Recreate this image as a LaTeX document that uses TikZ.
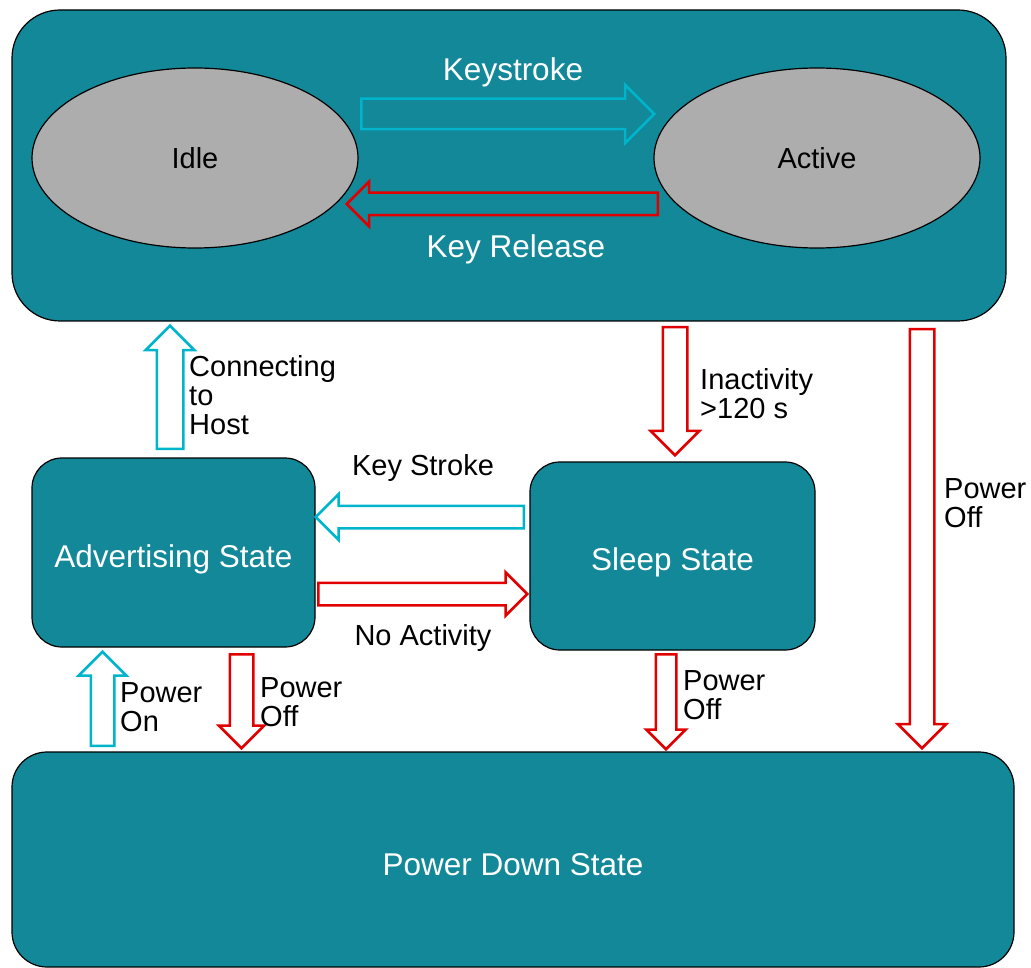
\documentclass[tikz,border=0pt]{standalone}
\usepackage{fontspec}
\setmainfont{Liberation Sans}
\usepackage{xcolor}
\usetikzlibrary{shapes.geometric, shapes.arrows, calc}

\definecolor{stateteal}{RGB}{18,136,153}
\definecolor{ovalgray}{RGB}{173,173,173}
\definecolor{goarrow}{RGB}{0,180,204}
\definecolor{offarrow}{RGB}{224,0,0}

\tikzset{
  statebox/.style={draw=black, line width=1.2pt, fill=stateteal, rounded corners=#1,
    text=white, font=\fontsize{31.5}{32}\selectfont},
  statebox/.default=30pt,
  oval/.style={ellipse, draw=black, line width=1.2pt, fill=ovalgray,
    minimum width=326pt, minimum height=180pt, font=\fontsize{29}{29}\selectfont},
  blk/.style={single arrow, draw=#1, line width=2.5pt, inner xsep=0pt,
    single arrow tip angle=90},
  shaft/.style n args={2}{inner ysep=#1/2, minimum width=#2,
    single arrow head extend={(#2-#1)/2}},
  lbl/.style={align=left, inner sep=0pt, font=\fontsize{29}{29}\selectfont},
  toplbl/.style={inner sep=0pt, text=white, font=\fontsize{31.5}{32}\selectfont},
}

% block arrow from tail to tip
\newcommand{\blockarrow}[3]{%
  \path let \p1=(#2), \p2=(#3),
    \n1={veclen(\x2-\x1,\y2-\y1)}, \n2={atan2(\y2-\y1,\x2-\x1)} in
    node[#1, minimum height=\n1, rotate=\n2, anchor=tail] at (#2) {};}

\begin{document}
\begin{tikzpicture}[x=1pt, y=-1pt]
  \useasboundingbox (0,0) rectangle (1031,968);

  % states
  \node[statebox=48pt, minimum width=994pt, minimum height=311pt] (top) at (509,165.5) {};
  \node[oval] (idle) at (195,158) {Idle};
  \node[oval] (active) at (817,158) {Active};
  \node[statebox, minimum width=283pt, minimum height=189pt, text height=36pt] (adv) at (173.5,552.5) {Advertising State};
  \node[statebox, minimum width=285pt, minimum height=188pt, text height=35pt] (sleep) at (672.5,556) {Sleep State};
  \node[statebox=35pt, minimum width=1002pt, minimum height=215pt, text height=33pt] (down) at (513,859.5) {Power Down State};

  % arrow ends
  \coordinate (ks-a) at (360,114);   \coordinate (ks-b) at (653,114);
  \coordinate (kr-a) at (659,204);   \coordinate (kr-b) at (348,204);
  \coordinate (ch-a) at (170,450);   \coordinate (ch-b) at (170,327);
  \coordinate (kst-a) at (525,517);  \coordinate (kst-b) at (317,517);
  \coordinate (na-a) at (317,594);   \coordinate (na-b) at (526,594);
  \coordinate (on-a) at (102.5,747); \coordinate (on-b) at (102.5,653);
  \coordinate (aoff-a) at (241.5,653); \coordinate (aoff-b) at (241.5,747);
  \coordinate (ina-a) at (675,326);  \coordinate (ina-b) at (675,454);
  \coordinate (toff-a) at (922,328); \coordinate (toff-b) at (922,747);
  \coordinate (soff-a) at (666,653); \coordinate (soff-b) at (666,748);

  % transitions
  \blockarrow{blk=goarrow, shaft={28pt}{56pt}}{ks-a}{ks-b}
  \blockarrow{blk=offarrow, shaft={20pt}{42pt}}{kr-a}{kr-b}
  \blockarrow{blk=goarrow, shaft={24pt}{46pt}}{ch-a}{ch-b}
  \blockarrow{blk=goarrow, shaft={20pt}{43pt}}{kst-a}{kst-b}
  \blockarrow{blk=offarrow, shaft={20pt}{41pt}}{na-a}{na-b}
  \blockarrow{blk=goarrow, shaft={21pt}{45pt}}{on-a}{on-b}
  \blockarrow{blk=offarrow, shaft={21pt}{43pt}}{aoff-a}{aoff-b}
  \blockarrow{blk=offarrow, shaft={22pt}{46pt}}{ina-a}{ina-b}
  \blockarrow{blk=offarrow, shaft={22pt}{46pt}}{toff-a}{toff-b}
  \blockarrow{blk=offarrow, shaft={18pt}{37pt}}{soff-a}{soff-b}

  % labels
  \node[toplbl] (ks-lbl) at (513,72) {Keystroke};
  \node[toplbl] (kr-lbl) at (516,249) {Key Release};
  \node[lbl, anchor=west] (ch-lbl) at (189,395) {Connecting\\to\\Host};
  \node[lbl] (kst-lbl) at (423,468) {Key Stroke};
  \node[lbl] (na-lbl) at (423,638) {No Activity};
  \node[lbl, anchor=west] (on-lbl) at (120,707) {Power\\On};
  \node[lbl, anchor=west] (aoff-lbl) at (260,702) {Power\\Off};
  \node[lbl, anchor=west] (ina-lbl) at (700,394) {Inactivity\\>120 s};
  \node[lbl, anchor=west] (toff-lbl) at (944,503) {Power\\Off};
  \node[lbl, anchor=west] (soff-lbl) at (683,695) {Power\\Off};
\end{tikzpicture}
\end{document}
